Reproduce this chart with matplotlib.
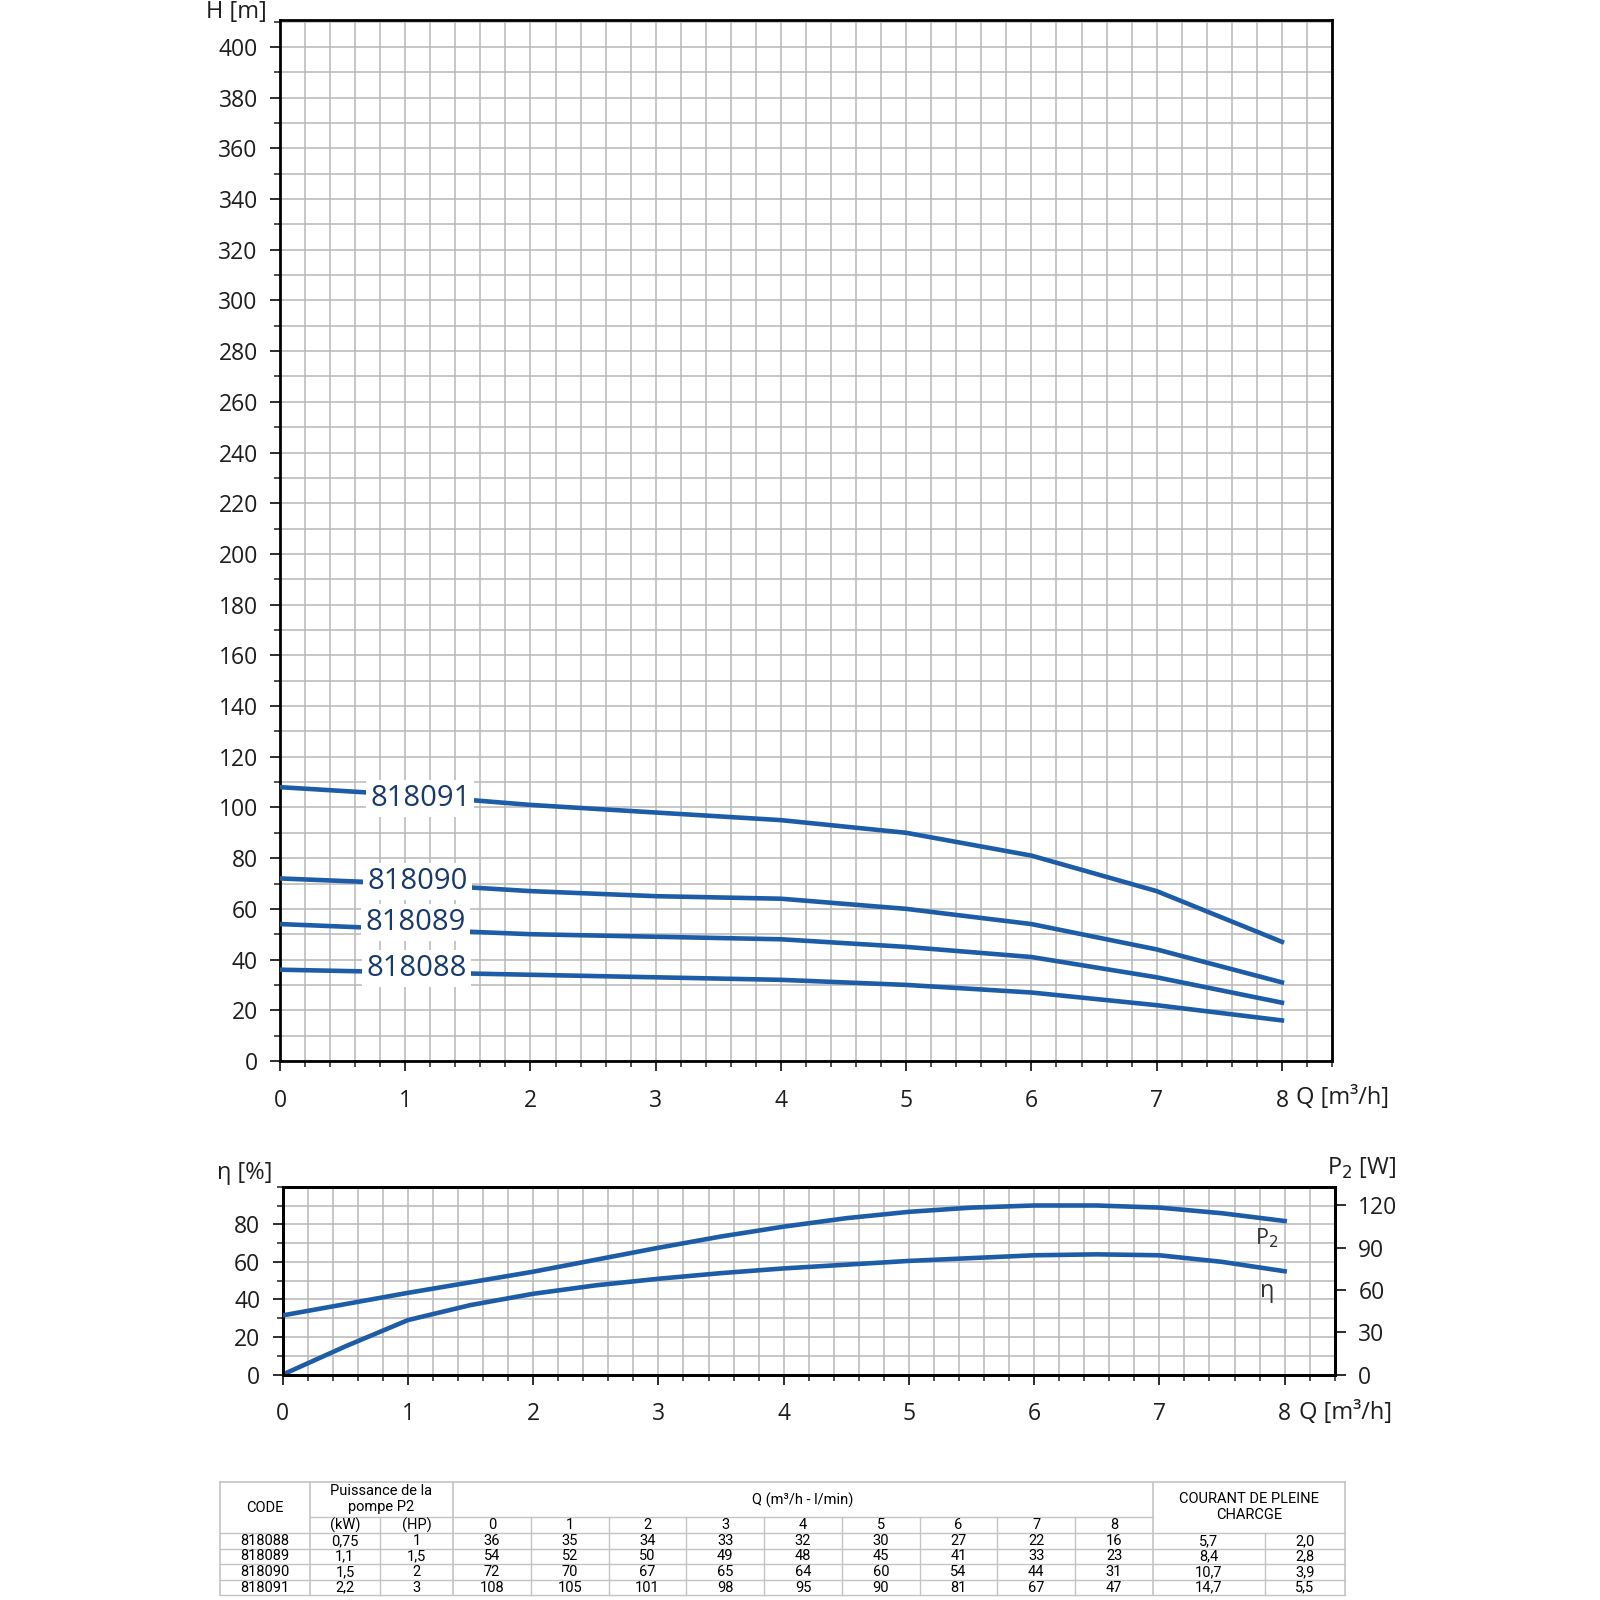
import matplotlib
matplotlib.use("Agg")
import matplotlib.pyplot as plt
from matplotlib.ticker import MultipleLocator

plt.rcParams["font.family"] = ["Open Sans", "DejaVu Sans"]

# head curves (values from the table)
q = [0, 1, 2, 3, 4, 5, 6, 7, 8]
codes = ["818088", "818089", "818090", "818091"]
h_818088 = [36, 35, 34, 33, 32, 30, 27, 22, 16]
h_818089 = [54, 52, 50, 49, 48, 45, 41, 33, 23]
h_818090 = [72, 70, 67, 65, 64, 60, 54, 44, 31]
h_818091 = [108, 105, 101, 98, 95, 90, 81, 67, 47]
heads = [h_818088, h_818089, h_818090, h_818091]

# table columns
power_kw = ["0,75", "1,1", "1,5", "2,2"]
power_hp = ["1", "1,5", "2", "3"]
current_1 = ["5,7", "8,4", "10,7", "14,7"]
current_2 = ["2,0", "2,8", "3,9", "5,5"]

# efficiency / power curves
q_low = [0, 0.5, 1, 1.5, 2, 2.5, 3, 3.5, 4, 4.5, 5, 5.5, 6, 6.5, 7, 7.5, 8]
eta = [0, 15, 29, 37, 43, 47.5, 51, 54, 56.5, 58.5, 60.5, 62, 63.5, 64, 63.5, 60, 55]
p2 = [42, 50, 58, 65.5, 73, 81.5, 90, 98, 105, 111, 115.5, 118.5, 120, 120, 118.5, 114.5, 109]

BLUE = "#1d5ca6"
NAVY = "#1a3a6c"
GRID = "#b8b8b8"
TXT = "#1e1e1e"

fig = plt.figure(figsize=(16, 16), dpi=100)

# pixel-coordinate layer for free text and the table
tab = fig.add_axes([0, 0, 1, 1])
tab.set_xlim(0, 1600)
tab.set_ylim(1600, 0)
tab.axis("off")


def style(a):
    a.grid(which="both", color=GRID, lw=1.1)
    a.set_axisbelow(True)
    for s in a.spines.values():
        s.set_linewidth(2)
    a.tick_params(which="major", length=7, width=1.3, labelsize=16.5, colors=TXT)
    a.tick_params(which="minor", length=4, width=1.1, colors=TXT)
    a.tick_params(axis="x", pad=13)
    a.tick_params(axis="y", pad=9)


# ---- main chart H(Q)
ax = fig.add_axes([0.175, 0.3369, 0.6575, 0.6504])
for code, h in zip(codes, heads):
    ax.plot(q, h, color=BLUE, lw=3.3, zorder=3)
lab_pos = {"818088": (1.09, 36.6), "818089": (1.08, 54.6),
           "818090": (1.10, 70.7), "818091": (1.12, 103.6)}
for code in codes:
    x, y = lab_pos[code]
    ax.text(x, y, code, fontsize=21, color=NAVY, ha="center", va="center", zorder=4,
            fontweight="medium", bbox=dict(fc="white", ec="none", pad=3))
ax.set_xlim(0, 8.4)
ax.set_ylim(0, 410.5)
ax.xaxis.set_minor_locator(MultipleLocator(0.2))
ax.yaxis.set_major_locator(MultipleLocator(20))
ax.yaxis.set_minor_locator(MultipleLocator(10))
ax.set_xticks([0, 1, 2, 3, 4, 5, 6, 7, 8])
style(ax)

# ---- lower chart eta / P2
ax2 = fig.add_axes([0.1767, 0.1409, 0.6575, 0.1174])
ax2.plot(q_low, eta, color=BLUE, lw=3.3, zorder=3)
ax2.set_xlim(0, 8.4)
ax2.set_ylim(0, 100)
ax2.set_xticks([0, 1, 2, 3, 4, 5, 6, 7, 8])
ax2.xaxis.set_minor_locator(MultipleLocator(0.2))
ax2.set_yticks([0, 20, 40, 60, 80])
ax2.yaxis.set_minor_locator(MultipleLocator(10))
style(ax2)
ax2.text(7.86, 72.5, "P$_2$", fontsize=15.5, color="#333333", ha="center", va="center")
ax2.text(7.86, 44.3, "η", fontsize=17, color="#333333", ha="center", va="center")

ax2r = ax2.twinx()
ax2r.plot(q_low, p2, color=BLUE, lw=3.3, zorder=3)
ax2r.set_ylim(0, 133.33)
ax2r.set_yticks([0, 30, 60, 90, 120])
ax2r.tick_params(which="major", length=8, width=1.3, labelsize=16.5, colors=TXT, pad=9)
for s in ax2r.spines.values():
    s.set_linewidth(2)

# ---- axis titles
tab.text(236, 12, "H [m]", fontsize=17, ha="center", va="center", color=TXT)
tab.text(1296, 1098, "Q [m³/h]", fontsize=17, ha="left", va="center", color=TXT)
tab.text(1299, 1413, "Q [m³/h]", fontsize=17, ha="left", va="center", color=TXT)
tab.text(245, 1173, "η [%]", fontsize=17, ha="center", va="center", color=TXT)
tab.text(1362, 1168, "P$_2$ [W]", fontsize=17, ha="center", va="center", color=TXT)

# ---- table
TL = "#c4c4c4"
TF = ["Roboto", "DejaVu Sans"]
x_left, x_kw, x_hp, x_q0, x_q9, x_c2, x_right = 220, 310, 380, 453, 1153, 1265, 1345
qw = (x_q9 - x_q0) / 9
rows = [1482, 1517, 1533, 1549, 1564, 1580, 1595]

tab.plot([x_left, x_right], [rows[0], rows[0]], color=TL, lw=1.2)
tab.plot([x_kw, x_q9], [rows[1], rows[1]], color=TL, lw=1)
for y in rows[2:]:
    tab.plot([x_left, x_right], [y, y], color=TL, lw=1)
for x in [x_left, x_kw, x_q0, x_q9, x_right]:
    tab.plot([x, x], [rows[0], rows[-1]], color=TL, lw=1.2)
tab.plot([x_hp, x_hp], [rows[1], rows[-1]], color=TL, lw=1)
for i in range(1, 9):
    x = x_q0 + i * qw
    tab.plot([x, x], [rows[1], rows[-1]], color=TL, lw=1)
tab.plot([x_c2, x_c2], [rows[2], rows[-1]], color=TL, lw=1)

fs = 10.5
tab.text((x_left + x_kw) / 2, 1508, "CODE", fontsize=fs, ha="center", va="center", family=TF)
tab.text((x_kw + x_q0) / 2, 1499, "Puissance de la\npompe P2", fontsize=fs, ha="center",
         va="center", linespacing=1.1, family=TF)
tab.text((x_q0 + x_q9) / 2, 1500, "Q (m³/h - l/min)", fontsize=fs, ha="center", va="center", family=TF)
tab.text((x_q9 + x_right) / 2, 1507, "COURANT DE PLEINE\nCHARCGE", fontsize=fs, ha="center",
         va="center", linespacing=1.15, family=TF)
tab.text((x_kw + x_hp) / 2, 1525, "(kW)", fontsize=fs, ha="center", va="center", family=TF)
tab.text((x_hp + x_q0) / 2, 1525, "(HP)", fontsize=fs, ha="center", va="center", family=TF)
for i, qq in enumerate(q):
    tab.text(x_q0 + (i + 0.5) * qw, 1525, str(qq), fontsize=fs, ha="center", va="center", family=TF)

for r in range(4):
    yc = (rows[r + 2] + rows[r + 3]) / 2
    tab.text((x_left + x_kw) / 2, yc, codes[r], fontsize=fs, ha="center", va="center", family=TF)
    tab.text((x_kw + x_hp) / 2, yc, power_kw[r], fontsize=fs, ha="center", va="center", family=TF)
    tab.text((x_hp + x_q0) / 2, yc, power_hp[r], fontsize=fs, ha="center", va="center", family=TF)
    for i, v in enumerate(heads[r]):
        tab.text(x_q0 + (i + 0.5) * qw, yc, str(v), fontsize=fs, ha="center", va="center", family=TF)
    tab.text((x_q9 + x_c2) / 2, yc, current_1[r], fontsize=fs, ha="center", va="center", family=TF)
    tab.text((x_c2 + x_right) / 2, yc, current_2[r], fontsize=fs, ha="center", va="center", family=TF)

fig.savefig("out.png", dpi=100)
